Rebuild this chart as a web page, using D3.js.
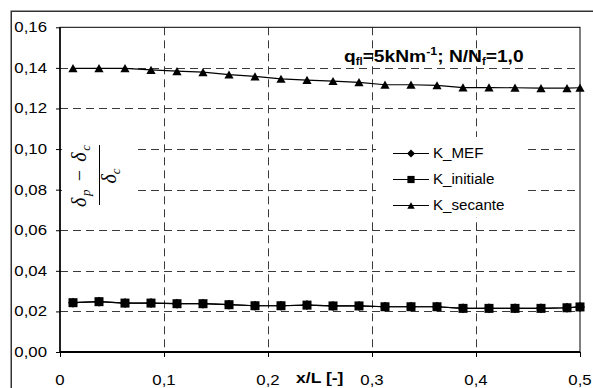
<!DOCTYPE html>
<html><head><meta charset="utf-8">
<script src="https://cdn.jsdelivr.net/npm/d3@7"></script>
<style>html,body{margin:0;padding:0;background:#fff;}svg{display:block;}</style>
</head><body>
<script>
// ---- data ----
const xValues = [0.0125,0.0375,0.0625,0.0875,0.1125,0.1375,0.1625,0.1875,0.2125,0.2375,0.2625,0.2875,0.3125,0.3375,0.3625,0.3875,0.4125,0.4375,0.4625,0.4875,0.5];
const kMEF      = [0.0243,0.0248,0.0241,0.0241,0.0238,0.0238,0.0233,0.0228,0.0228,0.0231,0.0227,0.0227,0.0223,0.0223,0.0223,0.0215,0.0215,0.0215,0.0215,0.0218,0.0222];
const kInitiale = [0.0243,0.0248,0.0241,0.0241,0.0238,0.0238,0.0233,0.0228,0.0228,0.0231,0.0227,0.0227,0.0223,0.0223,0.0223,0.0215,0.0215,0.0215,0.0215,0.0218,0.0222];
const kSecante  = [0.1398,0.1398,0.1398,0.1390,0.1384,0.1379,0.1367,0.1358,0.1346,0.1340,0.1335,0.1329,0.1317,0.1317,0.1314,0.1303,0.1303,0.1302,0.1300,0.1300,0.1302];
const seriesNames = ["K_MEF","K_initiale","K_secante"];
const xTicks = [0,0.1,0.2,0.3,0.4,0.5];
const xTickLabels = ["0","0,1","0,2","0,3","0,4","0,5"];
const yTicks = [0,0.02,0.04,0.06,0.08,0.10,0.12,0.14,0.16];
const yTickLabels = ["0,00","0,02","0,04","0,06","0,08","0,10","0,12","0,14","0,16"];

const W = 593, H = 388;
const svg = d3.select("body").append("svg").attr("width", W).attr("height", H);
const FONT = "'Liberation Sans', Arial, sans-serif";

// outer frame (extends off-canvas right/bottom)
svg.append("rect").attr("x",11.25).attr("y",11.25).attr("width",700).attr("height",700)
  .attr("fill","none").attr("stroke","#333").attr("stroke-width",1.5);

const x = d3.scaleLinear().domain([0,0.5]).range([60,580]);
const y = d3.scaleLinear().domain([0,0.16]).range([352,27.3]);

// helper: horizontally stretched text
function stext(parent, px, py, anchor, sx, size, weight){
  const g = parent.append("g").attr("transform",`translate(${px},${py}) scale(${sx},1)`);
  return g.append("text").attr("text-anchor",anchor).attr("font-family",FONT)
    .attr("font-size",size).attr("font-weight",weight||"normal").attr("fill","#000");
}

// gridlines
const grid = svg.append("g").attr("stroke","#3a3a3a").attr("stroke-width",1).attr("stroke-dasharray","8,5");
yTicks.filter(v=>v>0 && v<0.16).forEach(v=>{
  grid.append("line").attr("x1",x(0)).attr("x2",x(0.5)).attr("y1",Math.round(y(v))+0.5).attr("y2",Math.round(y(v))+0.5);
});
xTicks.filter(v=>v>0 && v<0.5).forEach(v=>{
  grid.append("line").attr("y1",y(0.16)).attr("y2",y(0)).attr("x1",Math.round(x(v))+0.5).attr("x2",Math.round(x(v))+0.5);
});

// white boxes for axis title and legend
svg.append("rect").attr("x",62).attr("y",135).attr("width",74).attr("height",77).attr("fill","#fff");
svg.append("rect").attr("x",376).attr("y",137).attr("width",151).attr("height",80).attr("fill","#fff");

// plot border
svg.append("rect").attr("x",x(0)).attr("y",y(0.16)).attr("width",x(0.5)-x(0)).attr("height",y(0)-y(0.16))
  .attr("fill","none").attr("stroke","#000").attr("stroke-width",1);

// axes
const xAxis = d3.axisBottom(x).tickValues(xTicks).tickSize(5).tickFormat("");
const yAxis = d3.axisLeft(y).tickValues(yTicks).tickSize(4).tickFormat("");
const gx = svg.append("g").attr("transform",`translate(0,${y(0)})`).call(xAxis);
const gy = svg.append("g").attr("transform",`translate(${x(0)},0)`).call(yAxis);
gx.select(".domain").attr("stroke-width",2).attr("d",`M${x(0)},0H${x(0.5)}`);
gy.select(".domain").attr("stroke-width",1.5).attr("d",`M0,${y(0.16)}V${y(0)}`);
gx.selectAll(".tick line").attr("stroke","#000");
gy.selectAll(".tick line").attr("stroke","#000");

// tick labels
yTicks.forEach((v,i)=>{ stext(svg,47,y(v)+5,"end",1.12,15).text(yTickLabels[i]); });
xTicks.forEach((v,i)=>{ stext(svg,x(v),385,"middle",1.12,15).text(xTickLabels[i]); });

// x axis title
stext(svg,296,383,"start",1.17,15,"bold").text("x/L [-]");

// chart annotation title
{
  const t = stext(svg,344,61.5,"start",1.13,17,"bold");
  t.append("tspan").text("q");
  t.append("tspan").attr("font-size",10).attr("dy",3).text("fl");
  t.append("tspan").attr("dy",-3).text("=5kNm");
  t.append("tspan").attr("font-size",11).attr("dy",-7).text("-1");
  t.append("tspan").attr("dy",7).text("; N/N");
  t.append("tspan").attr("font-size",10).attr("dy",3).text("f");
  t.append("tspan").attr("dy",-3).text("=1,0");
}

// y axis title (fraction, rotated)
{
  const SER = "'Liberation Serif','Times New Roman',serif";
  const num = svg.append("g").attr("transform","translate(86,176) rotate(-90)")
    .append("text").attr("text-anchor","middle").attr("font-family",SER).attr("font-size",20)
    .attr("font-style","italic").attr("textLength",62).attr("lengthAdjust","spacing");
  num.append("tspan").text("δ");
  num.append("tspan").attr("font-size",13).attr("dy",4).text("p");
  num.append("tspan").attr("dy",-4).attr("font-style","normal").text(" − ");
  num.append("tspan").text("δ");
  num.append("tspan").attr("font-size",13).attr("dy",4).text("c");
  svg.append("line").attr("x1",99.5).attr("x2",99.5).attr("y1",145).attr("y2",205).attr("stroke","#000").attr("stroke-width",1);
  const den = svg.append("g").attr("transform","translate(116,176) rotate(-90)")
    .append("text").attr("text-anchor","middle").attr("font-family",SER).attr("font-size",20).attr("font-style","italic");
  den.append("tspan").text("δ");
  den.append("tspan").attr("font-size",13).attr("dy",4).text("c");
}

// marker shapes (bbox centred)
const markers = {
  diamond: "M0,-5L5,0L0,5L-5,0Z",
  square: "M-4.5,-4.5H4.5V4.5H-4.5Z",
  triangle: "M0,-4.2L4.6,4H-4.6Z"
};
const seriesData = [
  {name:seriesNames[0], values:kMEF, marker:"diamond"},
  {name:seriesNames[1], values:kInitiale, marker:"square"},
  {name:seriesNames[2], values:kSecante, marker:"triangle"}
];
const line = d3.line().x(d=>x(d[0])).y(d=>y(d[1]));
seriesData.forEach(s=>{
  const pts = xValues.map((xv,i)=>[xv,s.values[i]]);
  svg.append("path").datum(pts).attr("d",line).attr("fill","none").attr("stroke","#000").attr("stroke-width",1.2);
  svg.append("g").selectAll("path").data(pts).join("path")
    .attr("d",markers[s.marker]).attr("transform",d=>`translate(${x(d[0])},${y(d[1])})`).attr("fill","#000");
});

// legend
const legY = [153,179,205];
seriesData.forEach((s,i)=>{
  svg.append("line").attr("x1",393).attr("x2",429).attr("y1",legY[i]+0.5).attr("y2",legY[i]+0.5).attr("stroke","#000").attr("stroke-width",1.2);
  svg.append("path").attr("d",markers[s.marker]).attr("transform",`translate(411,${legY[i]+0.5}) scale(0.8)`).attr("fill","#000");
  stext(svg,433,legY[i]+5,"start",1.08,14).text(s.name);
});
</script>
</body></html>
